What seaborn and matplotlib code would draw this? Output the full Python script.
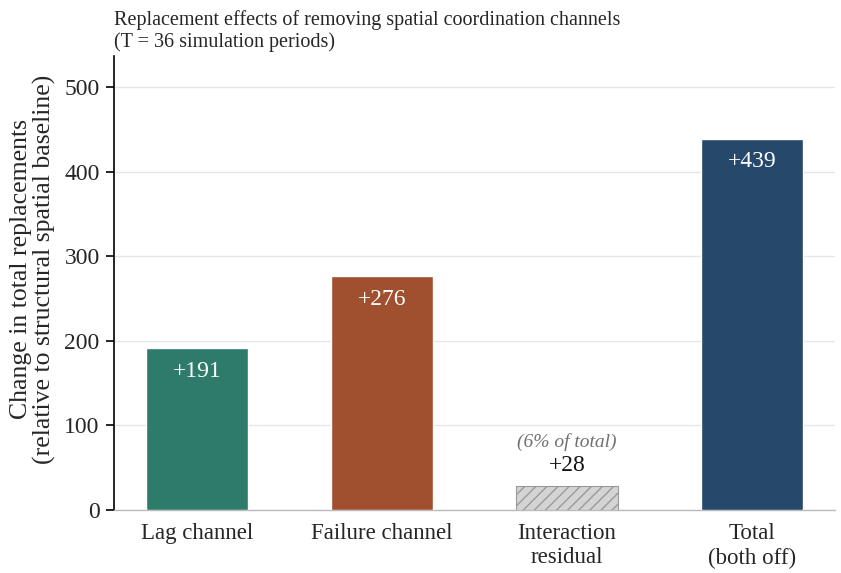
import pandas as pd
import seaborn as sns
import matplotlib.pyplot as plt

categories = ['Lag channel', 'Failure channel', 'Interaction\nresidual', 'Total\n(both off)']
values = [191, 276, 28, 439]
labels = ['+191', '+276', '+28', '+439']
colors = ['#2e7b6b', '#a0502e', '#d4d4d4', '#26486b']

sns.set_style('white')
plt.rcParams['font.family'] = ['Liberation Serif', 'DejaVu Serif']

data = pd.DataFrame({'cat': categories, 'val': values})

fig, ax = plt.subplots(figsize=(8.41, 5.73), dpi=100)
sns.barplot(x='cat', y='val', data=data, hue='cat', palette=colors, legend=False,
            width=0.55, saturation=1, ax=ax, zorder=3)

# hatched residual bar
resid = ax.patches[2]
resid.set_hatch('///')
resid.set_edgecolor('#9a9a9a')
resid.set_linewidth(0.8)

for i, (v, lab) in enumerate(zip(values, labels)):
    if i == 2:
        ax.text(i, v + 25, lab, ha='center', va='center', fontsize=17, color='#111111')
        ax.text(i, v + 52, '(6% of total)', ha='center', va='center', fontsize=14,
                style='italic', color='#707070')
    else:
        ax.text(i, v - 27, lab, ha='center', va='center', fontsize=17, color='white')

ax.set_ylim(0, 537)
ax.set_xlim(-0.45, 3.45)
ax.set_yticks([0, 100, 200, 300, 400, 500])
ax.yaxis.grid(True, color='#e6e6e6', linewidth=1, zorder=0)
ax.set_axisbelow(True)
ax.tick_params(axis='y', left=True, length=6, width=1.2, labelsize=17, color='black', pad=4)
ax.tick_params(axis='x', bottom=False, labelsize=16.5, pad=6)
ax.set_xlabel('')
ax.set_ylabel('Change in total replacements\n(relative to structural spatial baseline)', fontsize=18.5,
              linespacing=1.05)
ax.yaxis.set_label_coords(-0.08, 0.53)
ax.set_title('Replacement effects of removing spatial coordination channels\n(T = 36 simulation periods)',
             loc='left', fontsize=14.5, pad=6)

for s in ['top', 'right']:
    ax.spines[s].set_visible(False)
ax.spines['left'].set_color('black')
ax.spines['left'].set_linewidth(1.2)
ax.spines['bottom'].set_color('#bbbbbb')
ax.spines['bottom'].set_linewidth(1)

fig.subplots_adjust(left=0.135, right=0.993, top=0.903, bottom=0.11)
fig.savefig('out.png', dpi=100)
